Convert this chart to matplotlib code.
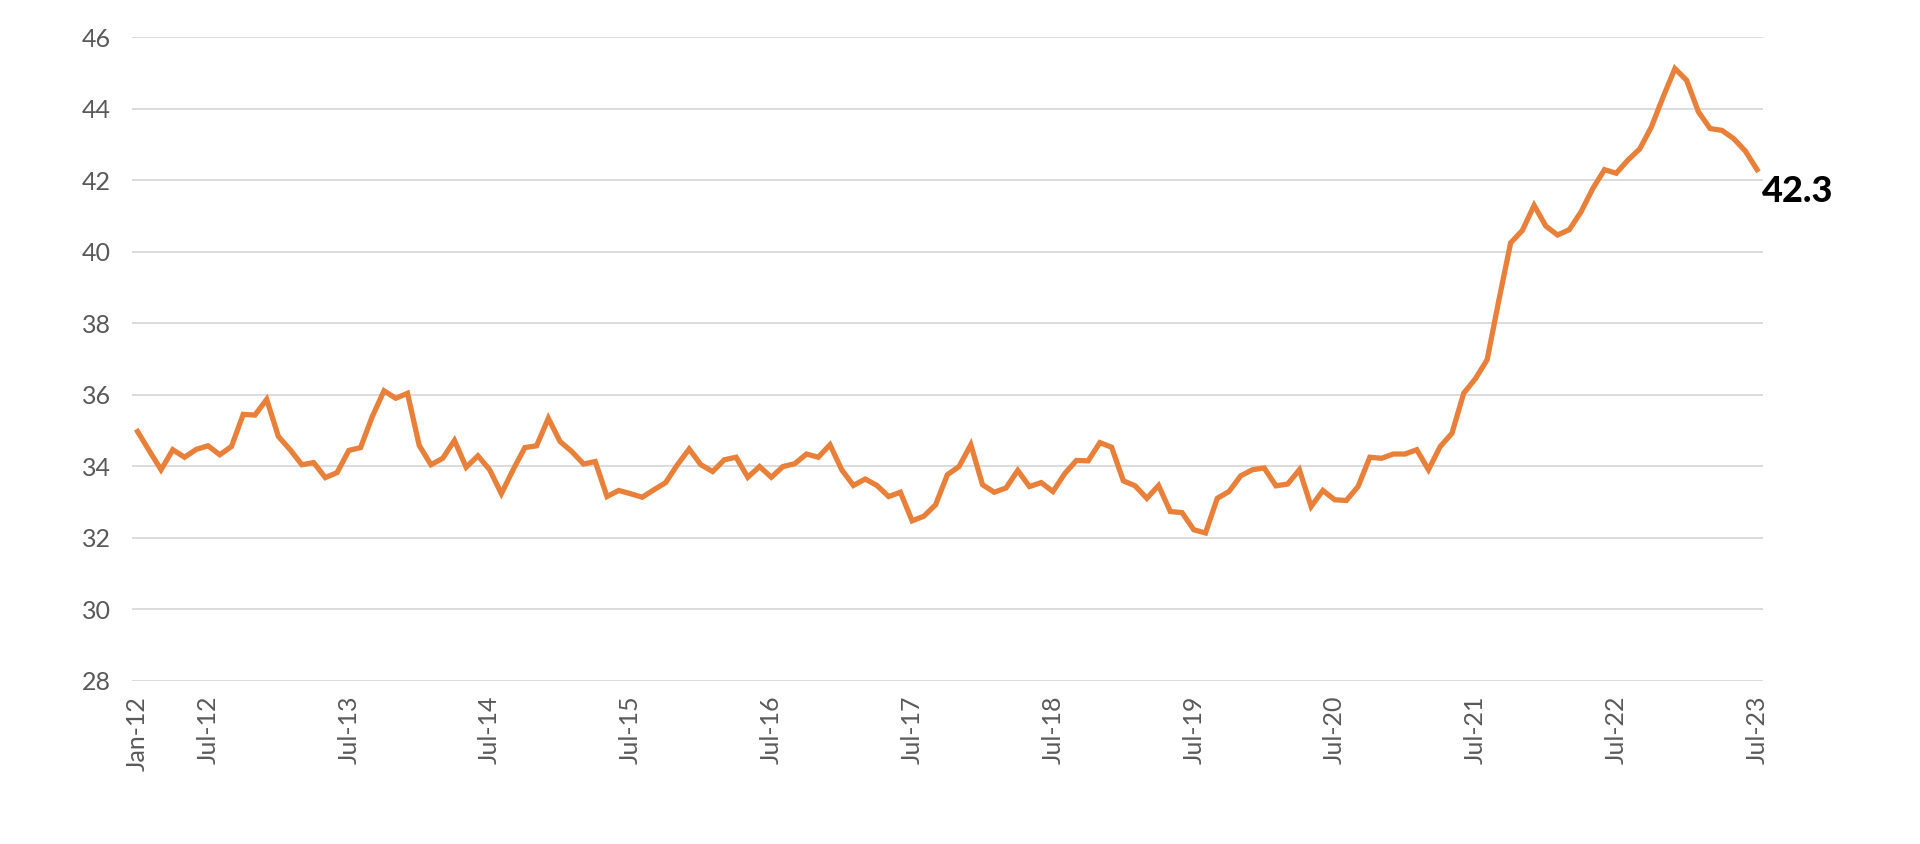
import matplotlib
matplotlib.use("Agg")
import matplotlib.pyplot as plt
import numpy as np

# Monthly values Jan-2012 .. Jul-2023
values = [
    34.97, 34.43, 33.90, 34.46, 34.25, 34.47, 34.57, 34.32, 34.55, 35.45, 35.43, 35.87,
    34.83, 34.46, 34.04, 34.10, 33.68, 33.82, 34.44, 34.52, 35.39, 36.11, 35.90, 36.04,
    34.58, 34.04, 34.22, 34.72, 33.97, 34.29, 33.90, 33.23, 33.90, 34.52, 34.57, 35.34,
    34.69, 34.41, 34.06, 34.13, 33.15, 33.32, 33.23, 33.13, 33.34, 33.54, 34.04, 34.48,
    34.04, 33.85, 34.18, 34.25, 33.69, 33.99, 33.69, 33.99, 34.07, 34.34, 34.25, 34.60,
    33.90, 33.46, 33.64, 33.46, 33.15, 33.27, 32.47, 32.60, 32.92, 33.76, 33.99, 34.60,
    33.48, 33.27, 33.39, 33.88, 33.43, 33.54, 33.29, 33.79, 34.16, 34.15, 34.66, 34.53,
    33.59, 33.45, 33.10, 33.46, 32.73, 32.70, 32.22, 32.13, 33.10, 33.29, 33.73, 33.90,
    33.95, 33.45, 33.50, 33.90, 32.87, 33.32, 33.06, 33.04, 33.43, 34.25, 34.22, 34.34,
    34.34, 34.46, 33.90, 34.55, 34.92, 36.04, 36.45, 36.98, 38.65, 40.25, 40.60, 41.30,
    40.72, 40.47, 40.62, 41.12, 41.77, 42.30, 42.20, 42.57, 42.88, 43.50, 44.34, 45.13,
    44.80, 43.92, 43.45, 43.40, 43.17, 42.82, 42.30,
]
tick_positions = [0, 6, 18, 30, 42, 54, 66, 78, 90, 102, 114, 126, 138]
tick_labels = ["Jan-12", "Jul-12", "Jul-13", "Jul-14", "Jul-15", "Jul-16", "Jul-17",
               "Jul-18", "Jul-19", "Jul-20", "Jul-21", "Jul-22", "Jul-23"]
y_ticks = [28, 30, 32, 34, 36, 38, 40, 42, 44, 46]
end_label = "42.3"

plt.rcParams['font.family'] = ['Lato', 'DejaVu Sans']

fig = plt.figure(figsize=(19.2, 8.44), dpi=100)
ax = fig.add_axes([0.0686, 0.1937, 0.8496, 0.7619])

x = np.arange(len(values))
ax.plot(x, values, color="#E8803A", lw=3.8, solid_joinstyle="miter", zorder=3)

ax.set_xlim(-0.5, len(values) - 0.5)
ax.set_ylim(28, 46)
ax.set_yticks(y_ticks)
ax.set_xticks(tick_positions)
ax.set_xticklabels(tick_labels, rotation=90)
ax.grid(axis="y", color="#dcdcdc", lw=1.4)
ax.set_axisbelow(True)
for s in ax.spines.values():
    s.set_visible(False)
ax.tick_params(axis="both", length=0, labelsize=18, labelcolor="#595959")
ax.tick_params(axis="y", pad=15)
ax.tick_params(axis="x", pad=11)

ax.annotate(end_label, xy=(x[-1], values[-1]), xytext=(5, -22),
            textcoords="offset pixels", ha="left", va="center",
            fontsize=26, fontweight="black", color="black")

fig.savefig("out.png", dpi=100, facecolor="white")
